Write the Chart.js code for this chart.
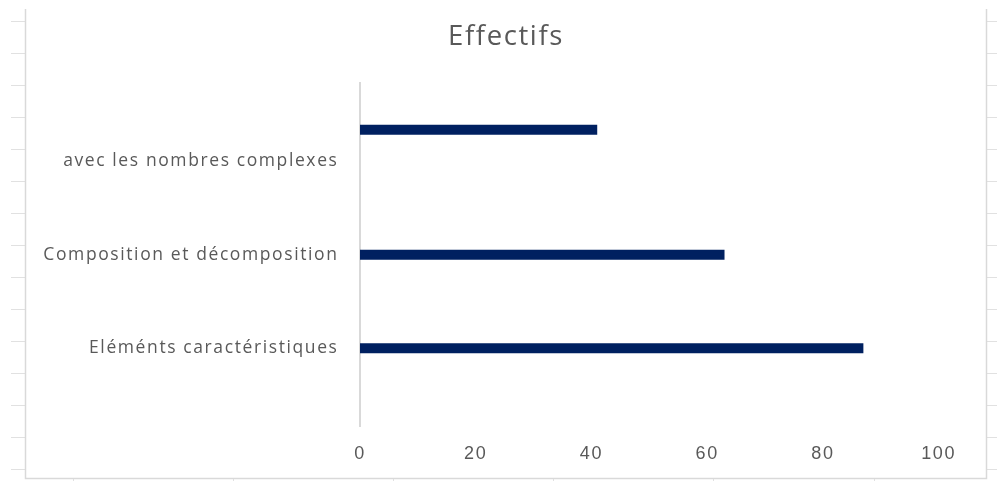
<!DOCTYPE html>
<html lang="fr">
<head>
<meta charset="utf-8">
<title>Effectifs</title>
<script src="https://cdn.jsdelivr.net/npm/chart.js@4/dist/chart.umd.min.js"></script>
<style>
  html, body { margin: 0; padding: 0; background: #ffffff; }
  #wrap { width: 997px; height: 481px; position: relative; }
</style>
</head>
<body>
<div id="wrap"><canvas id="chart" width="997" height="481"></canvas></div>
<script>
// Worksheet rows feeding the chart (top row first); blank rows stay empty.
const categories = [
  '', '', 'avec les nombres complexes', '', '',
  'Composition et décomposition', '', '',
  'Eléménts caractéristiques', '', ''
];
const effectifs = [null, 41, null, null, null, 63, null, null, 87, null, null];
const xTicks = [0, 20, 40, 60, 80, 100];

const GREY_TEXT = '#595959';
const SHEET_LINE = '#e1e1e1';

// Slightly tracked-out lettering for every text drawn on the canvas.
const tracking = {
  id: 'tracking',
  beforeUpdate(chart) { chart.ctx.letterSpacing = '1.6px'; },
  beforeDraw(chart) { chart.ctx.letterSpacing = '1.6px'; }
};

// Spreadsheet cell lines around the chart object, plus the chart's own frame.
const sheetBackdrop = {
  id: 'sheetBackdrop',
  beforeDraw(chart) {
    const ctx = chart.ctx;
    ctx.save();
    ctx.fillStyle = '#ffffff';
    ctx.fillRect(0, 0, chart.width, chart.height);
    ctx.strokeStyle = SHEET_LINE;
    ctx.lineWidth = 1;
    ctx.beginPath();
    for (let y = 20.5; y < chart.height; y += 32.07) {
      const yy = Math.round(y) + 0.5;
      ctx.moveTo(11, yy); ctx.lineTo(25, yy);
      ctx.moveTo(987, yy); ctx.lineTo(997, yy);
    }
    for (let x = 73; x < chart.width - 20; x += 160.1) {
      const xx = Math.round(x) + 0.5;
      ctx.moveTo(xx, 479); ctx.lineTo(xx, 481);
    }
    ctx.stroke();
    // chart frame
    ctx.strokeStyle = '#d9d9d9';
    ctx.lineWidth = 1.5;
    ctx.beginPath();
    ctx.moveTo(25.5, 9); ctx.lineTo(25.5, 478.5);
    ctx.lineTo(986.5, 478.5); ctx.lineTo(986.5, 9);
    ctx.stroke();
    ctx.restore();
  }
};

new Chart(document.getElementById('chart'), {
  type: 'bar',
  data: {
    labels: categories,
    datasets: [{
      label: 'Effectifs',
      data: effectifs,
      backgroundColor: '#002060',
      borderWidth: 0,
      categoryPercentage: 1,
      barPercentage: 0.32
    }]
  },
  options: {
    indexAxis: 'y',
    responsive: false,
    animation: false,
    events: [],
    layout: { padding: { left: 15, right: 0, top: 10, bottom: 0 } },
    plugins: {
      legend: { display: false },
      tooltip: { enabled: false },
      title: {
        display: true,
        text: 'Effectifs',
        color: GREY_TEXT,
        font: { family: 'Open Sans', size: 27.5, weight: 'normal', lineHeight: 1.2 },
        padding: { top: 11, bottom: 29 }
      }
    },
    scales: {
      x: {
        type: 'linear',
        min: 0,
        max: 100,
        afterBuildTicks(scale) { scale.ticks = xTicks.map(v => ({ value: v })); },
        grid: { display: false, drawTicks: false },
        border: { display: false },
        ticks: {
          color: GREY_TEXT,
          padding: 16.5,
          maxRotation: 0,
          font: { family: 'Liberation Sans', size: 18, lineHeight: 1.2 }
        }
      },
      y: {
        type: 'category',
        afterFit(scale) { scale.width = 345; },
        grid: { display: false, drawTicks: false },
        border: { display: true, color: '#d9d9d9', width: 2 },
        ticks: {
          autoSkip: false,
          color: GREY_TEXT,
          padding: 21.5,
          font: { family: 'Open Sans', size: 17.5, lineHeight: 1.2 }
        }
      },
      // blank right-hand margin inside the chart frame
      margin: {
        type: 'linear',
        axis: 'y',
        position: 'right',
        afterFit(scale) { scale.width = 58.4; },
        grid: { display: false, drawTicks: false },
        border: { display: false },
        ticks: { display: false }
      }
    }
  },
  plugins: [tracking, sheetBackdrop]
});
</script>
</body>
</html>
